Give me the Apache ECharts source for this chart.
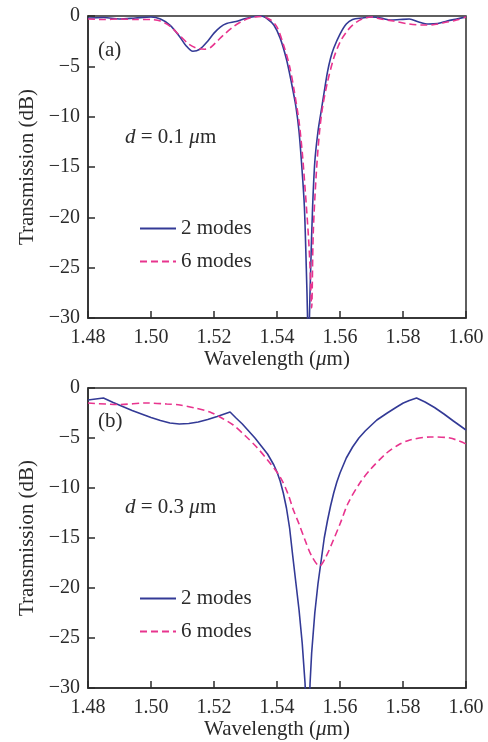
<!DOCTYPE html>
<html>
<head>
    <meta charset="UTF-8">
    <title>Transmission vs wavelength</title>
    <script src="https://cdn.jsdelivr.net/npm/echarts@6/dist/echarts.min.js"></script>
    <style>
        html, body { margin: 0; padding: 0; background: #fff; }
        #chart { width: 488px; height: 742px; }
    </style>
</head>
<body>
<div id="chart"></div>
<script>
    // panel (a), d = 0.1 um
    const aWave2 = [1.480, 1.485, 1.490, 1.495, 1.500, 1.503, 1.506, 1.509, 1.511, 1.5133, 1.5155, 1.518, 1.520,
        1.522, 1.524, 1.527, 1.530, 1.533, 1.535, 1.537, 1.539, 1.541, 1.543, 1.5445, 1.546, 1.547, 1.548, 1.5487,
        1.5493, 1.5497, 1.5500, 1.5503, 1.5507, 1.5513, 1.552, 1.553, 1.554, 1.555, 1.556, 1.557, 1.558, 1.560, 1.562,
        1.564, 1.567, 1.570, 1.573, 1.576, 1.579, 1.582, 1.585, 1.588, 1.591, 1.594, 1.597, 1.600];
    const aDb2 = [-0.2, -0.15, -0.3, -0.2, -0.1, -0.3, -0.9, -2.0, -2.9, -3.5, -3.3, -2.5, -1.7,
        -1.1, -0.75, -0.55, -0.25, -0.05, 0, -0.3, -0.9, -2.2, -4.3, -6.5, -9.0, -11.5, -15.5, -19,
        -25, -30, -38, -30, -25, -19, -14.5, -11.5, -9.5, -7.5, -5.6, -4.2, -3.2, -1.8, -0.8,
        -0.35, -0.2, -0.1, -0.2, -0.4, -0.35, -0.3, -0.6, -0.8, -0.75, -0.5, -0.3, -0.1];
    const aWave6 = [1.480, 1.485, 1.490, 1.495, 1.500, 1.503, 1.506, 1.509, 1.512, 1.5145, 1.517, 1.519, 1.521, 1.523,
        1.526, 1.529, 1.532, 1.535, 1.538, 1.540, 1.542, 1.544, 1.5455, 1.547, 1.548, 1.549, 1.550, 1.5505, 1.5510,
        1.5515, 1.5525, 1.5535, 1.5545, 1.556, 1.558, 1.560, 1.562, 1.564, 1.567, 1.570, 1.573, 1.577, 1.582, 1.586,
        1.590, 1.594, 1.597, 1.600];
    const aDb6 = [-0.3, -0.35, -0.3, -0.35, -0.35, -0.5, -1.0, -1.9, -2.8, -3.2, -3.3, -3.1, -2.5, -1.9,
        -1.1, -0.5, -0.15, -0.05, -0.4, -1.1, -2.8, -5.0, -7.5, -10.5, -13.5, -17.5, -22, -25, -29,
        -21.6, -15.5, -11.5, -9.0, -6.6, -4.2, -2.6, -1.6, -0.9, -0.3, -0.1, -0.3, -0.5, -0.8, -0.9,
        -0.85, -0.6, -0.4, -0.1];

    // panel (b), d = 0.3 um
    const bWave2 = [1.480, 1.4849, 1.488, 1.491, 1.494, 1.497, 1.500, 1.503, 1.506, 1.509, 1.512, 1.515, 1.518, 1.521,
        1.5251, 1.527, 1.529, 1.531, 1.533, 1.535, 1.537, 1.539, 1.540, 1.541, 1.542, 1.543, 1.544, 1.545, 1.546,
        1.547, 1.548, 1.5489, 1.5498, 1.5505, 1.551, 1.552, 1.553, 1.554, 1.555, 1.556, 1.557, 1.558, 1.559, 1.560,
        1.562, 1.564, 1.566, 1.568, 1.570, 1.5717, 1.575, 1.578, 1.5801, 1.582, 1.5843, 1.587, 1.590, 1.593, 1.596,
        1.598, 1.600];
    const bDb2 = [-1.2, -1.0, -1.45, -1.85, -2.25, -2.6, -2.95, -3.25, -3.5, -3.6, -3.55, -3.4, -3.15, -2.85,
        -2.4, -3.0, -3.6, -4.3, -5.0, -5.8, -6.6, -7.7, -8.4, -9.3, -10.5, -12.0, -14.0, -16.8, -19.5,
        -22.2, -25.5, -29.5, -36, -29.5, -26.5, -22.5, -19.6, -17.3, -15.0, -13.3, -11.8, -10.5, -9.4, -8.5,
        -7.0, -5.9, -5.0, -4.3, -3.7, -3.2, -2.5, -1.9, -1.5, -1.25, -1.0, -1.4, -1.95, -2.6, -3.3,
        -3.75, -4.2];
    const bWave6 = [1.480, 1.490, 1.4986, 1.505, 1.5092, 1.514, 1.5187, 1.523, 1.5261, 1.530, 1.5335, 1.537, 1.541,
        1.5435, 1.5452, 1.547, 1.549, 1.551, 1.5535, 1.5555, 1.5579, 1.560, 1.5626, 1.5663, 1.5695, 1.5748, 1.5785,
        1.5822, 1.5886, 1.5949, 1.600];
    const bDb6 = [-1.5, -1.65, -1.5, -1.6, -1.7, -2.0, -2.4, -3.1, -3.7, -4.8, -5.9, -7.2, -8.9,
        -10.6, -12.2, -13.6, -15.3, -16.8, -17.8, -16.9, -15.2, -13.6, -11.5, -9.5, -8.2, -6.5, -5.7,
        -5.2, -4.9, -5.0, -5.6];

    const seriesNames = ['2 modes', '6 modes'];
    const panelLabels = ['(a)', '(b)'];
    const thickness = ['0.1', '0.3'];

    const blue = '#333a96';
    const pink = '#e8348e';
    const ink = '#2b2b2b';
    const serif = '"Liberation Serif", "DejaVu Serif", serif';

    function pairs(xs, ys) {
        return xs.map((x, i) => [x, ys[i]]);
    }

    const grids = [
        {left: 88, top: 16, width: 378, height: 302},
        {left: 88, top: 388, width: 378, height: 300}
    ];
    const labelTops = [40, 411];
    const noteTops = [127, 497];
    const legendTops = [218, 588];

    const richText = {
        t: {fontFamily: serif, fontSize: 21, color: ink, fontWeight: 'normal'},
        i: {fontFamily: serif, fontSize: 21, color: ink, fontWeight: 'normal', fontStyle: 'italic'}
    };

    function xAxis(i) {
        return {
            gridIndex: i, type: 'value', min: 1.48, max: 1.60, interval: 0.02,
            name: '{t|Wavelength (}{i|μ}{t|m)}',
            nameLocation: 'middle', nameGap: 30,
            nameTextStyle: {rich: richText},
            axisLine: {show: true, onZero: false, lineStyle: {color: ink, width: 1.5}},
            axisTick: {show: true, inside: true, length: 7, lineStyle: {color: ink, width: 1.5}},
            axisLabel: {
                fontFamily: serif, fontSize: 20, color: ink, margin: 10,
                formatter: v => v.toFixed(2)
            },
            splitLine: {show: false}
        };
    }

    function yAxis(i) {
        return {
            gridIndex: i, type: 'value', min: -30, max: 0, interval: 5,
            name: 'Transmission (dB)',
            nameLocation: 'middle', nameGap: 49, nameRotate: 90,
            nameTextStyle: {fontFamily: serif, fontSize: 21, color: ink},
            axisLine: {show: true, onZero: false, lineStyle: {color: ink, width: 1.5}},
            axisTick: {show: true, inside: true, length: 7, lineStyle: {color: ink, width: 1.5}},
            axisLabel: {
                fontFamily: serif, fontSize: 20, color: ink, margin: 8,
                formatter: v => v < 0 ? '\u2212' + (-v) : String(v)
            },
            splitLine: {show: false}
        };
    }

    function line(name, i, data, color, dashed, smooth) {
        return {
            name: name, type: 'line', xAxisIndex: i, yAxisIndex: i,
            data: data, symbol: 'none', clip: true, smooth: smooth,
            lineStyle: {color: color, width: 1.6, type: dashed ? [7, 4] : 'solid'},
            itemStyle: {color: color},
            animation: false
        };
    }

    const chart = echarts.init(document.getElementById('chart'), null, {renderer: 'canvas'});

    const option = {
        backgroundColor: '#fff',
        animation: false,
        grid: grids.map(g => Object.assign({show: true, borderColor: ink, borderWidth: 1.5}, g)),
        xAxis: [xAxis(0), xAxis(1)],
        yAxis: [yAxis(0), yAxis(1)],
        title: [0, 1].map(i => ({
            text: panelLabels[i],
            left: 98, top: labelTops[i], padding: 0,
            textStyle: {fontFamily: serif, fontSize: 21, fontWeight: 'normal', color: ink}
        })).concat([0, 1].map(i => ({
            text: '{i|d}{t| = ' + thickness[i] + ' }{i|μ}{t|m}',
            left: 125, top: noteTops[i], padding: 0,
            textStyle: {fontWeight: 'normal', rich: richText}
        }))),
        legend: [0, 1].map(i => ({
            data: seriesNames,
            orient: 'vertical',
            left: 139, top: legendTops[i], padding: 0,
            itemWidth: 36, itemHeight: 12, itemGap: 12, itemTextGap: 7,
            itemStyle: {color: 'rgba(0,0,0,0)', borderWidth: 0, opacity: 0},
            textStyle: {fontFamily: serif, fontSize: 21, color: ink},
            selectedMode: false
        })),
        series: [
            line(seriesNames[0], 0, pairs(aWave2, aDb2), blue, false, 0.3),
            line(seriesNames[1], 0, pairs(aWave6, aDb6), pink, true, 0.3),
            line(seriesNames[0], 1, pairs(bWave2, bDb2), blue, false, false),
            line(seriesNames[1], 1, pairs(bWave6, bDb6), pink, true, 0.3)
        ]
    };

    chart.setOption(option);
</script>
</body>
</html>
